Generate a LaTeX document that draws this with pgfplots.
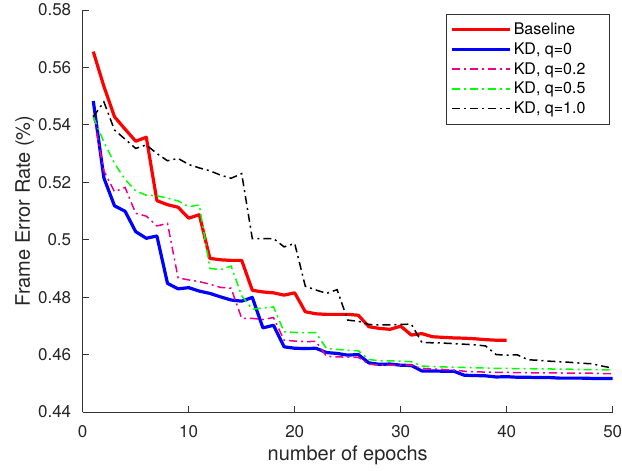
\documentclass[border=0pt]{standalone}
\usepackage{pgfplots}
\pgfplotsset{compat=1.18}
\usepackage{fontspec}
\setmainfont{TeX Gyre Heros}
\begin{document}
\begin{tikzpicture}
\begin{axis}[
  scale only axis,
  width=530pt, height=402pt,
  xmin=0, xmax=50, ymin=0.44, ymax=0.58,
  xtick={0,10,20,30,40,50},
  ytick={0.44,0.46,0.48,0.5,0.52,0.54,0.56,0.58},
  yticklabels={0.44,0.46,0.48,0.5,0.52,0.54,0.56,0.58},
  axis x line*=bottom, axis y line*=left,
  axis line style={black!80, line width=0.8pt},
  tick style={black!80, line width=0.8pt},
  tick align=inside, major tick length=6pt,
  /pgf/number format/assume math mode=true,
  ticklabel style={font=\fontsize{17}{19}\selectfont, text=black!85},
  xticklabel style={yshift=-10pt},
  yticklabel style={xshift=-8pt},
  xlabel={number of epochs},
  ylabel={Frame Error Rate (\%)},
  every axis x label/.style={at={(axis description cs:0.5,0)}, yshift=-43pt, anchor=center,
    font=\fontsize{20}{22}\selectfont, text=black!85},
  every axis y label/.style={at={(axis description cs:0,0.5)}, xshift=-58pt, rotate=90, anchor=center,
    font=\fontsize{20}{22}\selectfont, text=black!85},
  legend style={at={(1,1)}, anchor=north east, xshift=-3pt, yshift=-4pt, draw=black!80, line width=0.6pt,
    font=\fontsize{16}{19}\selectfont, row sep=2.5pt, inner xsep=4pt, inner ysep=7pt},
  legend cell align=left,
  legend image code/.code={\draw[#1] (0pt,0pt) -- (58pt,0pt);},
]
\addplot[red, draw=red, line width=3.2pt, line join=round] coordinates {
(1,0.5655)(2,0.5534)(3,0.5428)(4,0.5385)(5,0.5343)(6,0.5357)(7,0.5136)(8,0.5122)(9,0.5113)(10,0.5075)
(11,0.5087)(12,0.4935)(13,0.4930)(14,0.4928)(15,0.4928)(16,0.4824)(17,0.4818)(18,0.4815)(19,0.4807)(20,0.4815)
(21,0.4749)(22,0.4742)(23,0.4740)(24,0.4740)(25,0.4740)(26,0.4737)(27,0.4697)(28,0.4691)(29,0.4688)(30,0.4699)
(31,0.4668)(32,0.4673)(33,0.4662)(34,0.4660)(35,0.4658)(36,0.4657)(37,0.4655)(38,0.4652)(39,0.4650)(40,0.4650)};
\addlegendentry{Baseline\hspace*{18pt}}
\addplot[blue, draw=blue, line width=3.2pt, line join=round] coordinates {
(1,0.5483)(2,0.5215)(3,0.5118)(4,0.5099)(5,0.5028)(6,0.5005)(7,0.5013)(8,0.4848)(9,0.4829)(10,0.4833)
(11,0.4821)(12,0.4813)(13,0.4801)(14,0.4790)(15,0.4786)(16,0.4799)(17,0.4693)(18,0.4702)(19,0.4627)(20,0.4622)
(21,0.4621)(22,0.4622)(23,0.4607)(24,0.4604)(25,0.4598)(26,0.4600)(27,0.4571)(28,0.4566)(29,0.4567)(30,0.4563)
(31,0.4562)(32,0.4543)(33,0.4543)(34,0.4542)(35,0.4542)(36,0.4528)(37,0.4527)(38,0.4526)(39,0.4522)(40,0.4523)
(41,0.4521)(42,0.4521)(43,0.4520)(44,0.4520)(45,0.4518)(46,0.4518)(47,0.4518)(48,0.4517)(49,0.4517)(50,0.4517)};
\addlegendentry{KD, q=0\hspace*{18pt}}
\addplot[magenta, draw=magenta, line width=1.5pt, dash pattern=on 8pt off 4pt on 2pt off 4pt] coordinates {
(1,0.5435)(2,0.5240)(3,0.5167)(4,0.5182)(5,0.5092)(6,0.5082)(7,0.5048)(8,0.5057)(9,0.4867)(10,0.4860)
(11,0.4854)(12,0.4845)(13,0.4834)(14,0.4831)(15,0.4726)(16,0.4726)(17,0.4722)(18,0.4729)(19,0.4650)(20,0.4647)
(21,0.4645)(22,0.4646)(23,0.4594)(24,0.4592)(25,0.4591)(26,0.4590)(27,0.4567)(28,0.4563)(29,0.4563)(30,0.4563)
(31,0.4563)(32,0.4552)(33,0.4550)(34,0.4548)(35,0.4546)(36,0.4542)(37,0.4540)(38,0.4539)(39,0.4538)(40,0.4538)
(41,0.4537)(42,0.4537)(43,0.4536)(44,0.4536)(45,0.4536)(46,0.4535)(47,0.4535)(48,0.4535)(49,0.4534)(50,0.4534)};
\addlegendentry{KD, q=0.2\hspace*{18pt}}
\addplot[green, draw=green, line width=1.5pt, dash pattern=on 8pt off 4pt on 2pt off 4pt] coordinates {
(1,0.5428)(2,0.5340)(3,0.5266)(4,0.5210)(5,0.5170)(6,0.5155)(7,0.5153)(8,0.5145)(9,0.5135)(10,0.5115)
(11,0.5121)(12,0.4900)(13,0.4896)(14,0.4908)(15,0.4805)(16,0.4758)(17,0.4762)(18,0.4766)(19,0.4679)(20,0.4677)
(21,0.4676)(22,0.4676)(23,0.4621)(24,0.4618)(25,0.4615)(26,0.4613)(27,0.4583)(28,0.4578)(29,0.4578)(30,0.4577)
(31,0.4575)(32,0.4560)(33,0.4558)(34,0.4557)(35,0.4556)(36,0.4555)(37,0.4554)(38,0.4553)(39,0.4552)(40,0.4552)
(41,0.4551)(42,0.4551)(43,0.4550)(44,0.4550)(45,0.4549)(46,0.4549)(47,0.4548)(48,0.4548)(49,0.4547)(50,0.4546)};
\addlegendentry{KD, q=0.5\hspace*{18pt}}
\addplot[black, draw=black, line width=1.5pt, dash pattern=on 8pt off 4pt on 2pt off 4pt] coordinates {
(1,0.5428)(2,0.5480)(3,0.5382)(4,0.5350)(5,0.5318)(6,0.5330)(7,0.5300)(8,0.5275)(9,0.5283)(10,0.5262)
(11,0.5250)(12,0.5240)(13,0.5225)(14,0.5214)(15,0.5230)(16,0.5004)(17,0.5004)(18,0.5004)(19,0.4975)(20,0.4987)
(21,0.4838)(22,0.4825)(23,0.4813)(24,0.4826)(25,0.4720)(26,0.4716)(27,0.4705)(28,0.4703)(29,0.4703)(30,0.4705)
(31,0.4706)(32,0.4642)(33,0.4641)(34,0.4640)(35,0.4638)(36,0.4636)(37,0.4634)(38,0.4630)(39,0.4600)(40,0.4598)
(41,0.4599)(42,0.4582)(43,0.4580)(44,0.4577)(45,0.4575)(46,0.4573)(47,0.4570)(48,0.4568)(49,0.4560)(50,0.4553)};
\addlegendentry{KD, q=1.0\hspace*{18pt}}
\end{axis}
\pgfresetboundingbox
\path ([shift={(-82.7pt,-58pt)}]current axis.south west) rectangle ([shift={(9.3pt,10pt)}]current axis.north east);
\end{tikzpicture}
\end{document}
